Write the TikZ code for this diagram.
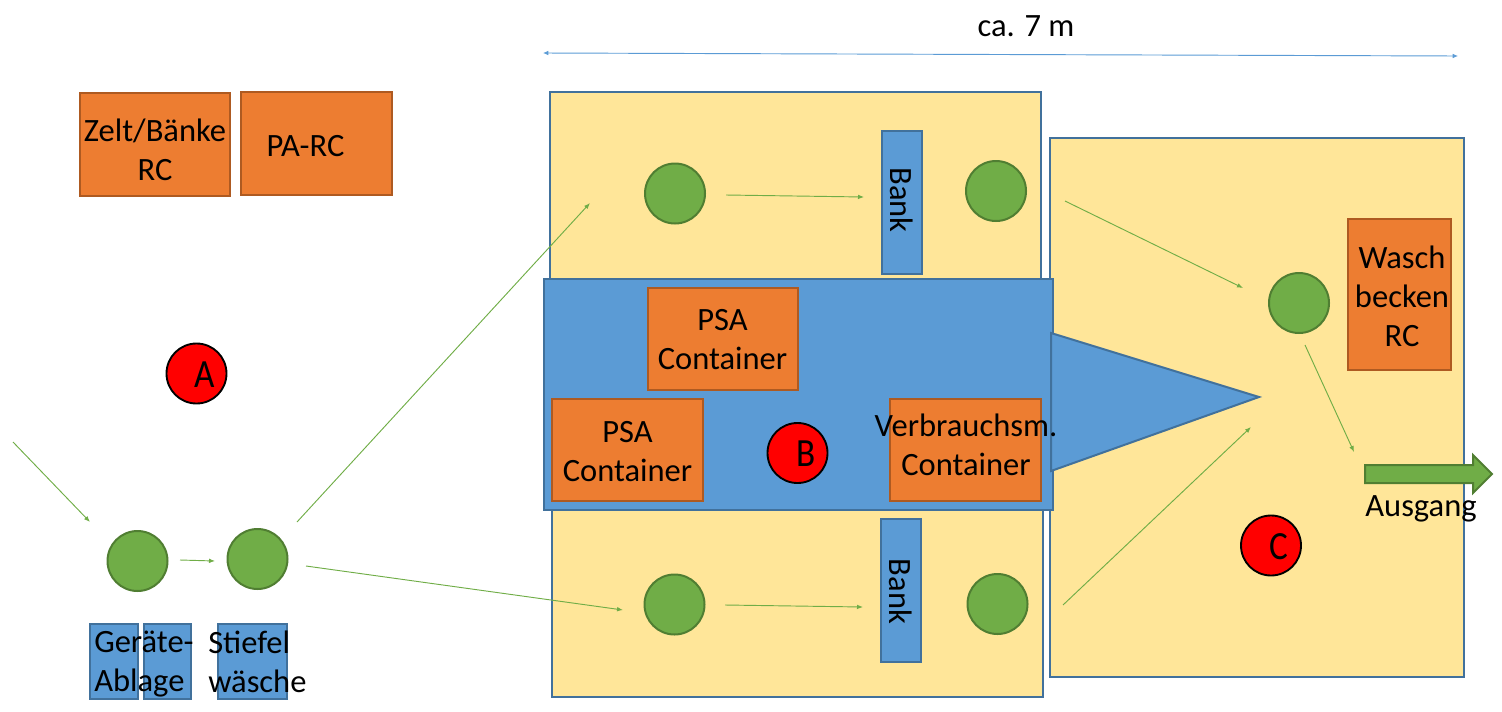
\documentclass[tikz,border=0pt]{standalone}
\usepackage{fontspec}
\setmainfont{Carlito}
\usetikzlibrary{arrows.meta}
\definecolor{yel}{HTML}{FFE699}
\definecolor{blu}{HTML}{5B9BD5}
\definecolor{bluD}{HTML}{41719C}
\definecolor{ora}{HTML}{ED7D31}
\definecolor{oraD}{HTML}{AE5A21}
\definecolor{gre}{HTML}{70AD47}
\definecolor{greD}{HTML}{507E32}
\definecolor{dim}{HTML}{5B9BD5}
\tikzset{
  x=0.75pt,y=-0.75pt,
  box/.style={rectangle,inner sep=0pt,line width=1.5pt},
  yelbox/.style={box,draw=bluD,fill=yel},
  blubox/.style={box,draw=bluD,fill=blu},
  orabox/.style={box,draw=oraD,fill=ora},
  stationdot/.style={circle,inner sep=0pt,minimum size=45pt,line width=1.5pt,draw=greD,fill=gre},
  zonemark/.style={circle,inner sep=0pt,minimum size=45pt,line width=1.4pt,draw=black,fill=red},
  txt/.style={inner sep=0pt,text=black,font=\fontsize{24.4}{29.3}\selectfont,align=center},
  zonetxt/.style={inner sep=0pt,text=black,font=\fontsize{30}{36}\selectfont},
  flow/.style={draw=gre,line width=0.7pt,-{Latex[length=4.5pt,width=3.5pt]}},
  span/.style={draw=dim,line width=0.7pt,{Latex[length=4pt,width=3.5pt]}-{Latex[length=4pt,width=3.5pt]}},
}
% name, x1, y1, x2, y2, style
\newcommand{\pxbox}[6]{%
  \pgfmathsetmacro{\pxw}{((#4)-(#2))*0.75}%
  \pgfmathsetmacro{\pxh}{((#5)-(#3))*0.75}%
  \node[#6,minimum width=\pxw pt,minimum height=\pxh pt] (#1) at ({((#2)+(#4))/2},{((#3)+(#5))/2}) {};%
}
\begin{document}
\begin{tikzpicture}
\useasboundingbox (0,0) rectangle (1502,711);
% zones
\pxbox{topzone}{550}{92}{1041}{290}{yelbox}
\pxbox{botzone}{552}{500}{1043}{697}{yelbox}
\pxbox{rightzone}{1050}{138}{1464}{677}{yelbox}
\pxbox{mid}{544}{279}{1053}{510}{blubox}
\draw[bluD,fill=blu,line width=1.5pt,line join=miter] (1051,333) -- (1259,397) -- (1051,471) -- cycle;
% orange boxes
\pxbox{zelt}{79.5}{93}{230}{196}{orabox}
\pxbox{parc}{241}{92}{392}{195}{orabox}
\pxbox{psaA}{648}{288}{798}{390}{orabox}
\pxbox{psaB}{552}{399}{703}{501}{orabox}
\pxbox{verb}{890}{399}{1041}{501}{orabox}
\pxbox{wasch}{1348}{219}{1451}{370}{orabox}
% blue boxes
\pxbox{banktop}{882}{131}{922}{274}{blubox}
\pxbox{bankbot}{881}{519}{921}{662}{blubox}
\pxbox{geraetA}{90}{624}{138}{699}{blubox}
\pxbox{geraetB}{144}{624}{191}{699}{blubox}
\pxbox{stiefel}{218}{624}{287}{699}{blubox}
% stations
\node[stationdot] (s1) at (137.5,561) {};
\node[stationdot] (s2) at (257.5,559) {};
\node[stationdot] (s3) at (675,193.5) {};
\node[stationdot] (s4) at (996,191) {};
\node[stationdot] (s5) at (674.5,604.5) {};
\node[stationdot] (s6) at (997.5,604) {};
\node[stationdot] (s7) at (1299,303) {};
% markers
\node[zonemark] (ma) at (196.5,373.5) {};
\node[zonemark] (mb) at (797.5,453) {};
\node[zonemark] (mc) at (1271,545.5) {};
\node[zonetxt] (la) at (204.5,375) {\scalebox{0.88}[1]{A}};
\node[zonetxt] (lb) at (806,454) {\scalebox{0.88}[1]{B}};
\node[zonetxt] (lc) at (1279,547) {\scalebox{0.88}[1]{C}};
% exit arrow
\draw[draw=greD,fill=gre,line width=1.5pt,line join=miter]
  (1365,465) -- (1473,465) -- (1473,455) -- (1492,474) -- (1473,493) -- (1473,483) -- (1365,483) -- cycle;
% flow arrows
\coordinate (a0s) at (13,442);   \coordinate (a0e) at (90,522);
\coordinate (a1s) at (180,560);  \coordinate (a1e) at (215,561);
\coordinate (a2s) at (297,522);  \coordinate (a2e) at (590,203);
\coordinate (a3s) at (306,566);  \coordinate (a3e) at (623,610);
\coordinate (a4s) at (726,195);  \coordinate (a4e) at (864,197);
\coordinate (a5s) at (725,605);  \coordinate (a5e) at (863,607);
\coordinate (a6s) at (1065,201); \coordinate (a6e) at (1243,288);
\coordinate (a7s) at (1063,605); \coordinate (a7e) at (1251,427);
\coordinate (a8s) at (1305,345); \coordinate (a8e) at (1354,452);
\coordinate (d0s) at (543,53);   \coordinate (d0e) at (1458,56);
\foreach \i in {0,...,8} \draw[flow] (a\i s) -- (a\i e);
\draw[span] (d0s) -- (d0e);
% labels
\node[txt] (t1) at (1026,26) {ca. 7 m};
\node[txt] (t2) at (155,150) {Zelt/Bänke\\RC};
\node[txt] (t3) at (305.5,146) {PA-RC};
\node[txt] (t4) at (722.5,340) {PSA\\Container};
\node[txt] (t5) at (627.5,452) {PSA\\Container};
\node[txt] (t6) at (966,445) {Verbrauchsm.\\Container};
\node[txt] (t7) at (1402,296) {Wasch\\becken\\RC};
\node[txt,rotate=-90] (t8) at (902,200) {Bank};
\node[txt,rotate=-90] (t9) at (901,591.5) {Bank};
\node[txt] (t10) at (1421,509) {Ausgang};
\node[txt,align=left,anchor=west] (t11) at (94,664) {Geräte-\\Ablage};
\node[txt,align=left,anchor=west] (t12) at (208,661.5) {Stiefel\\wäsche};
\end{tikzpicture}
\end{document}
